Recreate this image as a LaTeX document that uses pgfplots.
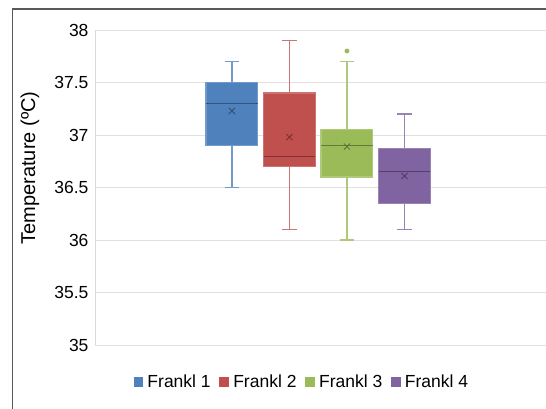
\documentclass[border=0pt]{standalone}
\usepackage{fontspec}
\setmainfont{Liberation Sans}
\usepackage{pgfplots}
\pgfplotsset{compat=1.18}
\usepgfplotslibrary{statistics}
\definecolor{c1}{HTML}{4F81BD}
\definecolor{c2}{HTML}{C0504D}
\definecolor{c3}{HTML}{9BBB59}
\definecolor{c4}{HTML}{8064A2}
\begin{document}
\begin{tikzpicture}
\path[use as bounding box] (0,0) rectangle (546pt,408pt);
\fill[white] (0,0) rectangle (546pt,408pt);
\draw[line width=1.6pt, black!65] (12.5pt,-5pt) -- (12.5pt,399pt) -- (560pt,399pt);
\begin{axis}[
  at={(95pt,63pt)}, anchor=south west,
  scale only axis, width=451pt, height=315pt,
  xmin=-1.38, xmax=6.46, ymin=35, ymax=38,
  ytick={35,35.5,...,38}, xtick=\empty,
  ymajorgrids, grid style={black!12, line width=0.9pt},
  axis x line=none,
  axis y line*=left, y axis line style={-, black!15, line width=0.8pt},
  major tick length=0pt,
  /pgf/number format/assume math mode=true,
  yticklabel style={font=\fontsize{17.5}{20}\selectfont, xshift=-3pt},
  ylabel={Temperature (ºC)},
  ylabel style={at={(axis description cs:-0.144,0.562)}, anchor=center, font=\fontsize{20}{22}\selectfont},
  legend style={at={(axis description cs:0.459,-0.117)}, anchor=center, draw=none, fill=none,
    legend columns=4, font=\fontsize{17.5}{20}\selectfont,
    /tikz/every odd column/.append style={column sep=3pt},
    /tikz/every even column/.append style={column sep=7pt}},
  legend cell align=left,
  boxplot/draw direction=y,
]
\addplot[forget plot, boxplot prepared={draw position=1, lower whisker=36.5, lower quartile=36.9, median=37.3, upper quartile=37.5, upper whisker=37.7, box extend=0.9, whisker extend=0.25},
  draw=c1!80!white, fill=c1, line width=1.2pt, boxplot/every median/.style={draw=c1!65!black, line width=1pt}] coordinates {};
\addplot[forget plot, boxplot prepared={draw position=2, lower whisker=36.1, lower quartile=36.7, median=36.8, upper quartile=37.4, upper whisker=37.9, box extend=0.9, whisker extend=0.25},
  draw=c2!80!white, fill=c2, line width=1.2pt, boxplot/every median/.style={draw=c2!65!black, line width=1pt}] coordinates {};
\addplot[forget plot, boxplot prepared={draw position=3, lower whisker=36.0, lower quartile=36.6, median=36.9, upper quartile=37.05, upper whisker=37.7, box extend=0.9, whisker extend=0.25},
  draw=c3!80!white, fill=c3, line width=1.2pt, boxplot/every median/.style={draw=c3!65!black, line width=1pt}] coordinates {};
\addplot[forget plot, boxplot prepared={draw position=4, lower whisker=36.1, lower quartile=36.35, median=36.65, upper quartile=36.87, upper whisker=37.2, box extend=0.9, whisker extend=0.25},
  draw=c4!80!white, fill=c4, line width=1.2pt, boxplot/every median/.style={draw=c4!65!black, line width=1pt}] coordinates {};
\addplot[forget plot, only marks, mark=x, mark size=4.3pt, line width=0.8pt, c1!60!black] coordinates {(1,37.23)};
\addplot[forget plot, only marks, mark=x, mark size=4.3pt, line width=0.8pt, c2!60!black] coordinates {(2,36.98)};
\addplot[forget plot, only marks, mark=x, mark size=4.3pt, line width=0.8pt, c3!60!black] coordinates {(3,36.89)};
\addplot[forget plot, only marks, mark=x, mark size=4.3pt, line width=0.8pt, c4!60!black] coordinates {(4,36.61)};
\addplot[forget plot, only marks, mark=*, mark size=2.2pt, c3] coordinates {(3,37.8)};
\addlegendimage{only marks, mark=square*, mark size=4.3pt, c1}
\addlegendentry{Frankl 1}
\addlegendimage{only marks, mark=square*, mark size=4.3pt, c2}
\addlegendentry{Frankl 2}
\addlegendimage{only marks, mark=square*, mark size=4.3pt, c3}
\addlegendentry{Frankl 3}
\addlegendimage{only marks, mark=square*, mark size=4.3pt, c4}
\addlegendentry{Frankl 4}
\end{axis}
\end{tikzpicture}
\end{document}
